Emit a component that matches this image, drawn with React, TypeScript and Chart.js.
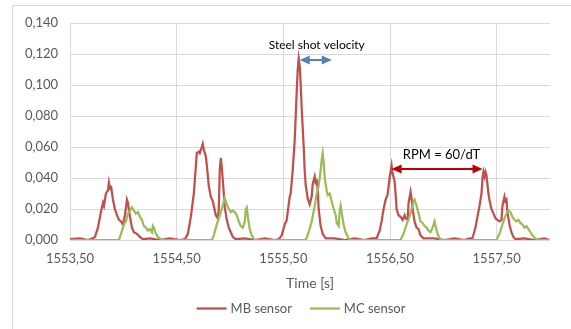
import React, { useEffect, useRef } from "react";
import { Chart, registerables } from "chart.js";

Chart.register(...registerables);

// ---- Data ----
const seriesLabels = ["MB sensor", "MC sensor"];
const xTitle = "Time [s]";
const xTicks = [1553.5, 1554.5, 1555.5, 1556.5, 1557.5];
const yTicks = [0, 0.02, 0.04, 0.06, 0.08, 0.1, 0.12, 0.14];
const velocityLabel = "Steel shot velocity";
const rpmLabel = "RPM = 60/dT";

const mbTime = [
  1553.500, 1553.594, 1553.669, 1553.706, 1553.734, 1553.762, 1553.790, 1553.809, 1553.818, 1553.837, 1553.856,
  1553.865, 1553.875, 1553.884, 1553.903, 1553.921, 1553.940, 1553.959, 1553.978, 1553.996, 1554.015, 1554.034,
  1554.043, 1554.062, 1554.081, 1554.099, 1554.127, 1554.155, 1554.184, 1554.249, 1554.343, 1554.436, 1554.530,
  1554.577, 1554.605, 1554.633, 1554.661, 1554.680, 1554.689, 1554.708, 1554.717, 1554.736, 1554.745, 1554.755,
  1554.773, 1554.783, 1554.801, 1554.820, 1554.839, 1554.848, 1554.867, 1554.886, 1554.895, 1554.904, 1554.914,
  1554.923, 1554.942, 1554.951, 1554.970, 1554.989, 1555.007, 1555.026, 1555.054, 1555.139, 1555.232, 1555.326,
  1555.419,
  1555.457, 1555.485, 1555.513, 1555.532, 1555.541, 1555.560, 1555.569, 1555.588, 1555.607, 1555.625, 1555.635,
  1555.644, 1555.654, 1555.663, 1555.672, 1555.691, 1555.700, 1555.710, 1555.728, 1555.747, 1555.766, 1555.775,
  1555.794, 1555.803, 1555.813, 1555.822, 1555.831, 1555.850, 1555.869, 1555.897, 1555.981, 1556.075, 1556.168,
  1556.262, 1556.328,
  1556.374, 1556.403, 1556.421, 1556.440, 1556.459, 1556.477, 1556.487, 1556.496, 1556.515, 1556.524, 1556.543,
  1556.552, 1556.562, 1556.580, 1556.599, 1556.618, 1556.637, 1556.646, 1556.665, 1556.674, 1556.693, 1556.702,
  1556.712, 1556.730, 1556.749, 1556.768, 1556.786, 1556.815, 1556.918, 1557.011, 1557.105, 1557.198, 1557.245,
  1557.273, 1557.301, 1557.320, 1557.339, 1557.358, 1557.367, 1557.376, 1557.386, 1557.395, 1557.404, 1557.423,
  1557.432, 1557.451, 1557.470, 1557.489, 1557.507, 1557.526, 1557.545, 1557.554, 1557.573, 1557.582, 1557.592,
  1557.601, 1557.620, 1557.638, 1557.657, 1557.676, 1557.760, 1557.854, 1557.947, 1557.994,
];
const mbValue = [
  0.0005, 0.001, 0.0, 0.001, 0.002, 0.008, 0.018, 0.024, 0.022, 0.030, 0.032,
  0.037, 0.033, 0.035, 0.026, 0.020, 0.016, 0.013, 0.012, 0.010, 0.016, 0.026,
  0.024, 0.015, 0.008, 0.005, 0.004, 0.002, 0.0005, 0.001, 0.0, 0.001, 0.0,
  0.0005, 0.004, 0.015, 0.030, 0.048, 0.056, 0.057, 0.056, 0.060, 0.062, 0.058,
  0.054, 0.048, 0.035, 0.028, 0.025, 0.022, 0.016, 0.014, 0.020, 0.045, 0.053,
  0.047, 0.030, 0.021, 0.013, 0.008, 0.005, 0.002, 0.0005, 0.001, 0.0, 0.001,
  0.0,
  0.0005, 0.003, 0.010, 0.013, 0.018, 0.028, 0.030, 0.045, 0.065, 0.095, 0.110,
  0.117, 0.112, 0.100, 0.085, 0.060, 0.045, 0.035, 0.027, 0.023, 0.028, 0.036,
  0.041, 0.037, 0.038, 0.033, 0.020, 0.009, 0.004, 0.001, 0.001, 0.0, 0.001,
  0.0, 0.001,
  0.001, 0.006, 0.012, 0.020, 0.026, 0.029, 0.035, 0.040, 0.048, 0.043, 0.038,
  0.030, 0.020, 0.016, 0.015, 0.013, 0.016, 0.014, 0.013, 0.024, 0.031, 0.027,
  0.020, 0.012, 0.008, 0.007, 0.003, 0.001, 0.001, 0.0, 0.001, 0.0, 0.001,
  0.001, 0.008, 0.015, 0.022, 0.030, 0.040, 0.044, 0.041, 0.044, 0.042, 0.030,
  0.026, 0.020, 0.017, 0.014, 0.013, 0.012, 0.013, 0.022, 0.028, 0.025, 0.026,
  0.018, 0.010, 0.005, 0.002, 0.0005, 0.001, 0.0, 0.001, 0.0,
];

const mcTime = [
  1553.500, 1553.959, 1553.978, 1554.006, 1554.024, 1554.043, 1554.062, 1554.081, 1554.099, 1554.118, 1554.137,
  1554.155, 1554.174, 1554.193, 1554.212, 1554.230, 1554.249, 1554.268, 1554.277, 1554.286, 1554.305, 1554.324,
  1554.361,
  1554.830, 1554.848, 1554.876, 1554.904, 1554.923, 1554.942, 1554.951, 1554.970, 1554.989, 1555.007, 1555.026,
  1555.045, 1555.064, 1555.082, 1555.101, 1555.120, 1555.139, 1555.148, 1555.157, 1555.167, 1555.185, 1555.204,
  1555.232,
  1555.710, 1555.738, 1555.766, 1555.794, 1555.813, 1555.831, 1555.850, 1555.860, 1555.869, 1555.878, 1555.888,
  1555.906, 1555.916, 1555.934, 1555.953, 1555.972, 1555.991, 1556.000, 1556.019, 1556.028, 1556.037, 1556.047,
  1556.065, 1556.084, 1556.112, 1556.140,
  1556.599, 1556.627, 1556.655, 1556.683, 1556.702, 1556.721, 1556.730, 1556.749, 1556.768, 1556.786, 1556.805,
  1556.824, 1556.843, 1556.861, 1556.880, 1556.899, 1556.918, 1556.927, 1556.946, 1556.964, 1556.992,
  1557.498, 1557.526, 1557.554, 1557.573, 1557.592, 1557.610, 1557.629, 1557.648, 1557.667, 1557.685, 1557.704,
  1557.723, 1557.741, 1557.760, 1557.779, 1557.798, 1557.816, 1557.835, 1557.863, 1557.901, 1557.994,
];
const mcValue = [
  0.0, 0.0, 0.004, 0.010, 0.012, 0.017, 0.019, 0.021, 0.019, 0.017, 0.018,
  0.015, 0.013, 0.009, 0.008, 0.006, 0.007, 0.005, 0.009, 0.008, 0.004, 0.002,
  0.0,
  0.0, 0.003, 0.010, 0.016, 0.020, 0.025, 0.027, 0.023, 0.020, 0.018, 0.019,
  0.018, 0.016, 0.012, 0.009, 0.008, 0.012, 0.020, 0.021, 0.015, 0.007, 0.003,
  0.0,
  0.0, 0.005, 0.012, 0.022, 0.030, 0.035, 0.045, 0.052, 0.056, 0.050, 0.040,
  0.032, 0.029, 0.030, 0.025, 0.020, 0.016, 0.011, 0.009, 0.018, 0.022, 0.018,
  0.010, 0.005, 0.001, 0.0,
  0.0, 0.004, 0.010, 0.015, 0.020, 0.025, 0.026, 0.022, 0.017, 0.012, 0.011,
  0.009, 0.008, 0.006, 0.005, 0.008, 0.012, 0.009, 0.004, 0.001, 0.0,
  0.0, 0.004, 0.010, 0.014, 0.017, 0.019, 0.018, 0.015, 0.013, 0.012, 0.013,
  0.011, 0.010, 0.008, 0.009, 0.007, 0.005, 0.003, 0.001, 0.0, 0.0,
];

// ---- Styling ----
const FONT = "Lato, 'Liberation Sans', sans-serif";
const TEXT_GREY = "#595959";
const GRID = "#d9d9d9";
const RED = "#C0504D";
const GREEN = "#9BBB59";

function drawDoubleArrow(ctx: CanvasRenderingContext2D, x1: number, x2: number, y: number, color: string) {
  const head = 10;
  const half = 4.5;
  ctx.save();
  ctx.strokeStyle = color;
  ctx.fillStyle = color;
  ctx.lineWidth = 2;
  ctx.beginPath();
  ctx.moveTo(x1 + head - 1, y);
  ctx.lineTo(x2 - head + 1, y);
  ctx.stroke();
  ctx.beginPath();
  ctx.moveTo(x1, y);
  ctx.lineTo(x1 + head, y - half);
  ctx.lineTo(x1 + head, y + half);
  ctx.closePath();
  ctx.fill();
  ctx.beginPath();
  ctx.moveTo(x2, y);
  ctx.lineTo(x2 - head, y - half);
  ctx.lineTo(x2 - head, y + half);
  ctx.closePath();
  ctx.fill();
  ctx.restore();
}

const decorations = {
  id: "decorations",
  beforeDraw(chart: any) {
    const ctx = chart.ctx as CanvasRenderingContext2D;
    ctx.save();
    ctx.fillStyle = "#ffffff";
    ctx.fillRect(0, 0, chart.width, chart.height);
    ctx.strokeStyle = GRID;
    ctx.lineWidth = 1;
    ctx.beginPath();
    ctx.moveTo(12.5, chart.height);
    ctx.lineTo(12.5, 5.5);
    ctx.lineTo(chart.width, 5.5);
    ctx.stroke();
    ctx.restore();
  },
  afterDatasetsDraw(chart: any) {
    const ctx = chart.ctx as CanvasRenderingContext2D;
    const xs = chart.scales.x;
    const ys = chart.scales.y;
    // Steel shot velocity annotation
    drawDoubleArrow(ctx, xs.getPixelForValue(1555.654), xs.getPixelForValue(1555.954), ys.getPixelForValue(0.1161), "#4F81BD");
    // RPM annotation
    drawDoubleArrow(ctx, xs.getPixelForValue(1556.515), xs.getPixelForValue(1557.367), ys.getPixelForValue(0.0458), "#C00000");
    ctx.save();
    ctx.fillStyle = "#000000";
    ctx.font = `12px ${FONT}`;
    ctx.textAlign = "center";
    ctx.textBaseline = "middle";
    ctx.fillText(velocityLabel, xs.getPixelForValue(1555.813), ys.getPixelForValue(0.1258));
    ctx.font = `13px ${FONT}`;
    ctx.fillText(rpmLabel, xs.getPixelForValue(1556.983), ys.getPixelForValue(0.0548));
    ctx.restore();
  },
  afterDraw(chart: any) {
    const ctx = chart.ctx as CanvasRenderingContext2D;
    ctx.save();
    ctx.font = `13px ${FONT}`;
    ctx.textBaseline = "middle";
    ctx.textAlign = "left";
    const lineLen = 30;
    const gapText = 4;
    const gapItem = 18;
    const items = chart.data.datasets.map((d: any) => ({ label: d.label as string, color: d.borderColor as string }));
    const total =
      items.reduce((a: number, it: any) => a + lineLen + gapText + ctx.measureText(it.label).width, 0) +
      gapItem * (items.length - 1);
    let x = 301 - total / 2;
    const y = 308.5;
    for (const it of items) {
      ctx.strokeStyle = it.color;
      ctx.lineWidth = 2.25;
      ctx.beginPath();
      ctx.moveTo(x, y);
      ctx.lineTo(x + lineLen, y);
      ctx.stroke();
      ctx.fillStyle = TEXT_GREY;
      ctx.fillText(it.label, x + lineLen + gapText, y);
      x += lineLen + gapText + ctx.measureText(it.label).width + gapItem;
    }
    ctx.restore();
  },
};

export default function App() {
  const canvasRef = useRef<HTMLCanvasElement>(null);

  useEffect(() => {
    const canvas = canvasRef.current;
    if (!canvas) return;
    const chart = new Chart(canvas, {
      type: "line",
      data: {
        datasets: [
          {
            label: seriesLabels[0],
            data: mbTime.map((t, i) => ({ x: t, y: mbValue[i] })),
            borderColor: RED,
            backgroundColor: RED,
            borderWidth: 2.25,
            pointRadius: 0,
            tension: 0,
            order: 1,
          },
          {
            label: seriesLabels[1],
            data: mcTime.map((t, i) => ({ x: t, y: mcValue[i] })),
            borderColor: GREEN,
            backgroundColor: GREEN,
            borderWidth: 2.25,
            pointRadius: 0,
            tension: 0,
            order: 0,
          },
        ],
      },
      options: {
        animation: false,
        responsive: false,
        devicePixelRatio: 1,
        layout: { padding: { left: 0, right: 21, top: 23, bottom: 0 } },
        plugins: {
          legend: { display: false },
          tooltip: { enabled: false },
        },
        scales: {
          x: {
            type: "linear",
            min: 1553.5,
            max: 1558,
            afterBuildTicks: (axis: any) => {
              axis.ticks = xTicks.map((v) => ({ value: v }));
            },
            afterFit: (s: any) => {
              s.height = 89;
            },
            grid: { color: GRID, lineWidth: 1, drawTicks: false },
            border: { display: false },
            ticks: {
              color: TEXT_GREY,
              font: { family: FONT, size: 13 },
              padding: 11,
              maxRotation: 0,
              autoSkip: false,
              callback: (v: any) => Number(v).toFixed(2).replace(".", ","),
            },
            title: {
              display: true,
              text: xTitle,
              color: TEXT_GREY,
              font: { family: FONT, size: 14 },
              padding: { top: 0, bottom: 37 },
            },
          },
          y: {
            type: "linear",
            min: 0,
            max: 0.14,
            afterBuildTicks: (axis: any) => {
              axis.ticks = yTicks.map((v) => ({ value: v }));
            },
            afterFit: (s: any) => {
              s.width = 70;
            },
            grid: { color: GRID, lineWidth: 1, drawTicks: false },
            border: { display: false },
            ticks: {
              color: TEXT_GREY,
              font: { family: FONT, size: 13 },
              padding: 12,
              callback: (v: any) => Number(v).toFixed(3).replace(".", ","),
            },
          },
        },
      },
      plugins: [decorations],
    });
    return () => chart.destroy();
  }, []);

  return (
    <div style={{ position: "fixed", left: 0, top: 0, width: 571, height: 329, background: "#ffffff" }}>
      <canvas ref={canvasRef} width={571} height={329} style={{ display: "block", width: 571, height: 329 }} />
    </div>
  );
}
